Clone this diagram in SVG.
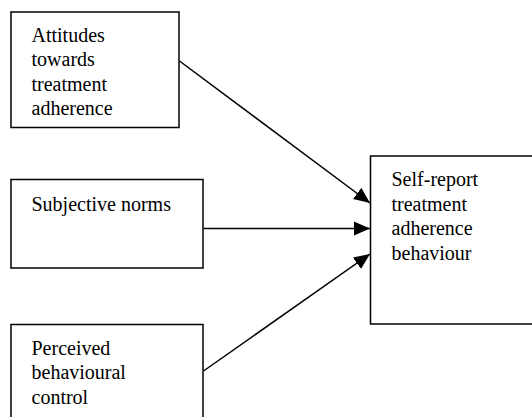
<svg xmlns="http://www.w3.org/2000/svg" width="532" height="417" viewBox="0 0 532 417">
  <style>
    .box { fill: #fff; stroke: #000; stroke-width: 1.5; }
    text { font-family: 'Liberation Serif', 'Times New Roman', Times, 'DejaVu Serif', serif; font-size: 20px; fill: #000; }
    .conn { stroke: #000; stroke-width: 1.5; fill: none; marker-end: url(#arrow); }
  </style>
  <defs>
    <marker id="arrow" markerUnits="userSpaceOnUse" markerWidth="18" markerHeight="18" viewBox="0 0 18 18" refX="16" refY="9" orient="auto">
      <path d="M0,2 L16,9 L0,16 Z" fill="#000"/>
    </marker>
  </defs>
  <g id="attitudes" font-family="Liberation Serif, Times New Roman, serif">
    <rect class="box" x="11" y="12" width="168" height="115.5"/>
    <text x="31.5" y="41.5">Attitudes</text>
    <text x="31.5" y="66">towards</text>
    <text x="31.5" y="90.5">treatment</text>
    <text x="31.5" y="114.5">adherence</text>
  </g>
  <g id="norms" font-family="Liberation Serif, Times New Roman, serif">
    <rect class="box" x="11" y="179.5" width="192" height="88.5"/>
    <text x="31.5" y="210.5">Subjective norms</text>
  </g>
  <g id="control" font-family="Liberation Serif, Times New Roman, serif">
    <rect class="box" x="11" y="324.5" width="192" height="110"/>
    <text x="31.5" y="355">Perceived</text>
    <text x="31.5" y="379">behavioural</text>
    <text x="31.5" y="403.5">control</text>
  </g>
  <g id="behaviour" font-family="Liberation Serif, Times New Roman, serif">
    <rect class="box" x="370.5" y="156" width="180" height="168"/>
    <text x="391.5" y="185.5">Self-report</text>
    <text x="391.5" y="210.5">treatment</text>
    <text x="391.5" y="235">adherence</text>
    <text x="391.5" y="259.5">behaviour</text>
  </g>
  <g id="connectors">
    <line class="conn" x1="179.5" y1="61" x2="370" y2="203"/>
    <line class="conn" x1="203.5" y1="228.5" x2="370" y2="228.5"/>
    <line class="conn" x1="203.5" y1="371" x2="370" y2="254"/>
  </g>
</svg>
